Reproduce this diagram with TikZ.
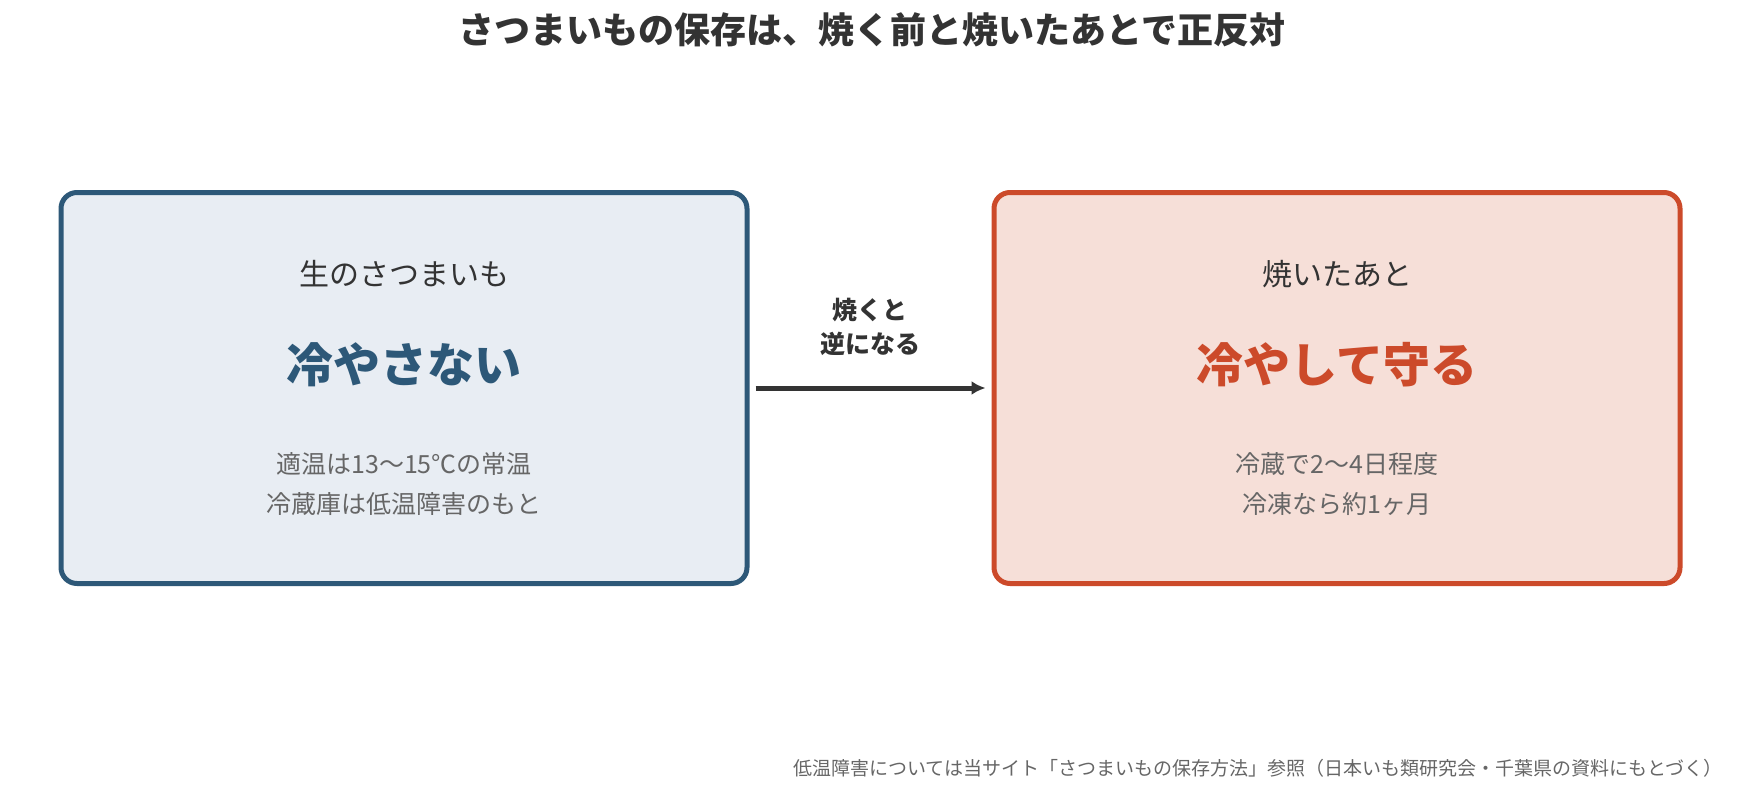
\documentclass[tikz,border=0pt]{standalone}
\usepackage{fontspec}
\setmainfont{Noto Sans CJK JP}
\usetikzlibrary{positioning,arrows.meta}
\definecolor{rawblue}{HTML}{2D5878}
\definecolor{rawfill}{HTML}{E8EDF3}
\definecolor{bakedred}{HTML}{CC4A2A}
\definecolor{bakedfill}{HTML}{F6DFD8}
\definecolor{ink}{HTML}{333333}
\definecolor{grayink}{HTML}{666666}
\tikzset{
  card/.style={draw, line width=5pt, rounded corners=16pt, minimum width=686pt, minimum height=391pt},
  head/.style={text=ink, font=\fontsize{30}{36}\selectfont},
  verdict/.style={font=\fontsize{47}{54}\selectfont\bfseries},
  detail/.style={text=grayink, font=\fontsize{25}{40}\selectfont, align=center},
}
\begin{document}
\begin{tikzpicture}[x=1pt,y=-1pt]
  \useasboundingbox (0,0) rectangle (1750,796);

  % Title
  \node[text=ink, font=\fontsize{36}{40}\selectfont\bfseries] (title) at (872,30) {さつまいもの保存は、焼く前と焼いたあとで正反対};

  % Cards
  \node[card, draw=rawblue, fill=rawfill] (raw) at (404,388) {};
  \node[card, draw=bakedred, fill=bakedfill] (baked) at (1337,388) {};

  \node[head] (raw_head) at (404,274) {生のさつまいも};
  \node[verdict, text=rawblue] (raw_verdict) at (404,365) {冷やさない};
  \node[detail] (raw_detail) at (404,484) {適温は13〜15℃の常温\\冷蔵庫は低温障害のもと};

  \node[head] (baked_head) at (1337,274) {焼いたあと};
  \node[verdict, text=bakedred] (baked_verdict) at (1337,365) {冷やして守る};
  \node[detail] (baked_detail) at (1337,484) {冷蔵で2〜4日程度\\冷凍なら約1ヶ月};

  % Arrow
  \draw[ink, line width=5pt, -{Latex[length=14pt,width=14pt]}] ([xshift=6pt]raw.east) -- ([xshift=-6pt]baked.west);
  \node[text=ink, font=\fontsize{25}{34}\selectfont\bfseries, align=center] (arrow_label) at (870,327) {焼くと\\逆になる};

  % Footnote
  \node[text=grayink, font=\fontsize{19}{22}\selectfont, anchor=east] (note) at (1726,768) {低温障害については当サイト「さつまいもの保存方法」参照（日本いも類研究会・千葉県の資料にもとづく）};
\end{tikzpicture}
\end{document}
